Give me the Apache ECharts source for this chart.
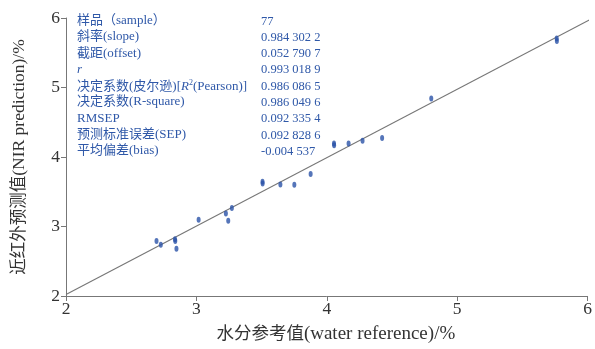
<!DOCTYPE html>
<html>
<head>
<meta charset="utf-8">
<script src="https://cdn.jsdelivr.net/npm/echarts@6/dist/echarts.min.js"></script>
<style>
html,body{margin:0;padding:0;background:#fff;}
#c{width:595px;height:349px;}
</style>
</head>
<body>
<div id="c"></div>
<script>
// Data
const xRef  = [2.694, 2.727, 2.836, 2.838, 2.847, 3.017, 3.226, 3.244, 3.272, 3.507, 3.508, 3.644, 3.751, 3.876, 4.055, 4.056, 4.167, 4.274, 4.424, 4.801, 5.763, 5.764];
const yPred = [2.793, 2.736, 2.815, 2.790, 2.679, 3.096, 3.186, 3.082, 3.267, 3.645, 3.620, 3.604, 3.599, 3.755, 4.195, 4.170, 4.196, 4.235, 4.274, 4.843, 5.705, 5.670];
const fitSlope = 0.9843022;
const fitOffset = 0.0527907;
const fitX = [2, 6.05];
const xTicks = [2, 3, 4, 5, 6];
const yTicks = [2, 3, 4, 5, 6];
const statLabels = ['样品（sample）', '斜率(slope)', '截距(offset)', '{i|r}', '决定系数(皮尔逊)[{i|R}{sup|2}(Pearson)]', '决定系数(R-square)', 'RMSEP', '预测标准误差(SEP)', '平均偏差(bias)'];
const statValues = ['77', '0.984 302 2', '0.052 790 7', '0.993 018 9', '0.986 086 5', '0.986 049 6', '0.092 335 4', '0.092 828 6', '-0.004 537'];
const xName = '水分参考值(water reference)/%';
const yName = '近红外预测值(NIR prediction)/%';

const FONT = "'Liberation Serif', 'Noto Sans CJK SC', serif";
const BLUE = '#2f58a8';

function wrapCJK(s) {
  return s.replace(/[\u3000-\u9fff\uff00-\uffef]+/g, m => '{c|' + m + '}');
}

const chart = echarts.init(document.getElementById('c'), null, {renderer: 'canvas'});

const graphics = [];
statLabels.forEach((t, i) => {
  graphics.push({
    type: 'text', left: 77, top: 14 + i * 16.3,
    style: {
      text: wrapCJK(t), fill: BLUE, font: '13px ' + FONT,
      rich: {
        c: {fill: BLUE, fontSize: 13, fontFamily: FONT},
        i: {fontStyle: 'italic', fill: BLUE, fontSize: 13, fontFamily: FONT},
        sup: {fontSize: 8, fill: BLUE, fontFamily: FONT, verticalAlign: 'top', padding: [0,0,6,0]}
      }
    }
  });
  graphics.push({
    type: 'text', left: 261, top: 15 + i * 16.3,
    style: {text: statValues[i], fill: BLUE, font: '12.5px ' + FONT}
  });
});

const option = {
  backgroundColor: '#fff',
  animation: false,
  grid: {left: 66, right: 6, top: 18, bottom: 50, containLabel: false},
  xAxis: {
    type: 'value', min: 2, max: 6, interval: 1,
    name: wrapCJK(xName), nameLocation: 'middle', nameGap: 29,
    nameTextStyle: {fontFamily: FONT, fontSize: 19, color: '#333', padding: [0, 0, 0, 18],
      rich: {c: {fontFamily: FONT, fontSize: 17.5, color: '#333'}}},
    axisLine: {show: true, onZero: false, lineStyle: {color: '#777', width: 1}},
    axisTick: {show: true, inside: false, length: 5, lineStyle: {color: '#777'}},
    axisLabel: {fontFamily: FONT, fontSize: 17.5, color: '#333', margin: 5},
    splitLine: {show: false}
  },
  yAxis: {
    type: 'value', min: 2, max: 6, interval: 1,
    name: wrapCJK(yName), nameLocation: 'middle', nameGap: 38,
    nameTextStyle: {fontFamily: FONT, fontSize: 17.5, color: '#333',
      rich: {c: {fontFamily: FONT, fontSize: 16.5, color: '#333'}}},
    axisLine: {show: true, onZero: false, lineStyle: {color: '#777', width: 1}},
    axisTick: {show: true, inside: false, length: 5, lineStyle: {color: '#777'}},
    axisLabel: {fontFamily: FONT, fontSize: 17.5, color: '#333', margin: 6},
    splitLine: {show: false}
  },
  series: [
    {
      type: 'line',
      data: fitX.map(x => [x, fitSlope * x + fitOffset]),
      showSymbol: false, symbol: 'none', clip: false,
      lineStyle: {color: '#777', width: 1.2},
      silent: true, z: 2
    },
    {
      type: 'scatter',
      data: xRef.map((x, i) => [x, yPred[i]]),
      symbol: 'circle', symbolSize: [4, 6],
      itemStyle: {color: '#2a52a8'},
      z: 3
    }
  ],
  graphic: graphics
};
chart.setOption(option);
</script>
</body>
</html>
